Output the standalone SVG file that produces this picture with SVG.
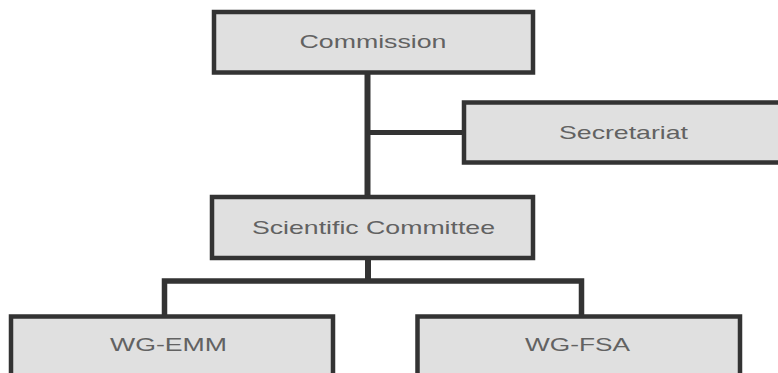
<svg xmlns="http://www.w3.org/2000/svg" width="778" height="373" viewBox="0 0 778 373">
<style>
.box{fill:#e0e0e0;stroke:#333;stroke-width:4.5}
.lbl{font-family:"Liberation Sans",Arial,sans-serif;font-size:19px;fill:#626262;text-anchor:middle}
.con{fill:none;stroke:#333;stroke-width:6;stroke-linejoin:miter;stroke-linecap:butt}
</style>
<rect width="778" height="373" fill="#fff"/>
<g id="connectors">
<line class="con" x1="367.5" y1="72" x2="367.5" y2="197"/>
<line class="con" x1="367.5" y1="132.5" x2="464" y2="132.5" style="stroke-width:5"/>
<line class="con" x1="368" y1="258" x2="368" y2="281"/>
<polyline class="con" points="164.5,316 164.5,281 581.5,281 581.5,316" style="stroke-width:5.5"/>
</g>
<g id="commission">
<rect class="box" x="214" y="12" width="319" height="60.5"/>
<text class="lbl" x="373" y="48" textLength="147" lengthAdjust="spacingAndGlyphs">Commission</text>
</g>
<g id="secretariat">
<rect class="box" x="464" y="102.5" width="330" height="60"/>
<text class="lbl" x="623.5" y="139" textLength="129" lengthAdjust="spacingAndGlyphs">Secretariat</text>
</g>
<g id="scientific-committee">
<rect class="box" x="212" y="197" width="321" height="61"/>
<text class="lbl" x="373.5" y="234" textLength="243" lengthAdjust="spacingAndGlyphs">Scientific Committee</text>
</g>
<g id="wg-emm">
<rect class="box" x="11" y="316.5" width="322" height="80"/>
<text class="lbl" x="168.5" y="351" textLength="117" lengthAdjust="spacingAndGlyphs">WG-EMM</text>
</g>
<g id="wg-fsa">
<rect class="box" x="417.5" y="316.5" width="322.5" height="80"/>
<text class="lbl" x="577.5" y="351" textLength="105" lengthAdjust="spacingAndGlyphs">WG-FSA</text>
</g>
</svg>
